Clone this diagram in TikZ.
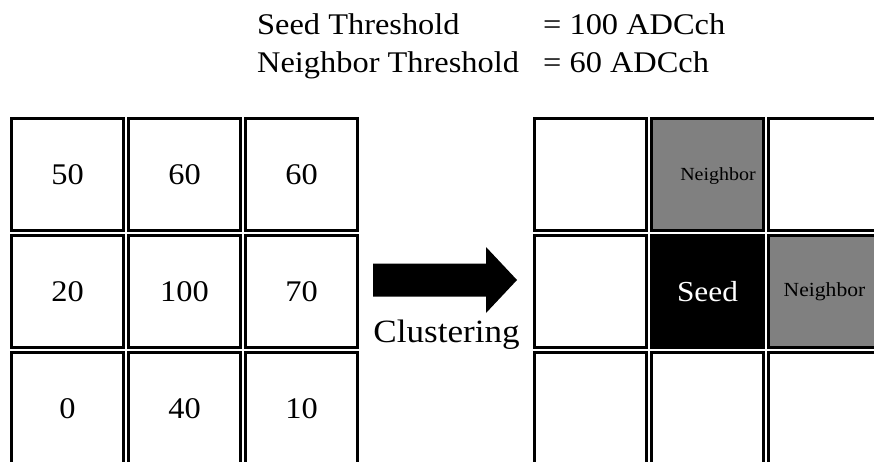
\documentclass[tikz,border=0pt]{standalone}
\usepackage{fontspec}
\setmainfont{Liberation Serif}[FakeStretch=1.08]
\begin{document}
\begin{tikzpicture}[x=1pt,y=-1pt,
  cell/.style={draw=black, line width=3pt, minimum size=112pt, inner sep=0pt,
    anchor=center, font=\fontsize{30}{36}\selectfont},
  seedcell/.style={cell, fill=black, text=white, font=\fontsize{29}{34}\selectfont},
  nbcell/.style={cell, fill=gray},
  hdr/.style={anchor=base west, inner sep=0pt, font=\fontsize{30}{36}\selectfont}]
\useasboundingbox (0,0) rectangle (874,462);
\clip (0,0) rectangle (874,462);
\fill[white] (0,0) rectangle (874,462);
% header
\node[hdr] (h1) at (257,35) {Seed Threshold};
\node[hdr] (h2) at (543,35) {= 100 ADCch};
\node[hdr] (h3) at (257,73) {Neighbor Threshold};
\node[hdr] (h4) at (543,73) {= 60 ADCch};
% left grid
\node[cell] (a11) at (67.5,174.5) {50};
\node[cell] (a12) at (184.5,174.5) {60};
\node[cell] (a13) at (301.5,174.5) {60};
\node[cell] (a21) at (67.5,291.5) {20};
\node[cell] (a22) at (184.5,291.5) {100};
\node[cell] (a23) at (301.5,291.5) {70};
\node[cell] (a31) at (67.5,408.5) {0};
\node[cell] (a32) at (184.5,408.5) {40};
\node[cell] (a33) at (301.5,408.5) {10};
% arrow
\coordinate (arr) at (373,280);
\fill[black] (arr) ++(0,-16.5) -- ++(113,0) -- ++(0,-16.5) -- ++(31,33)
  -- ++(-31,33) -- ++(0,-16.5) -- ++(-113,0) -- cycle;
\node[anchor=base, inner sep=0pt, font=\fontsize{32.5}{38}\selectfont] (lbl) at (446.5,342) {Clustering};
% right grid
\node[cell] (b11) at (590.5,174.5) {};
\node[nbcell] (b12) at (707.5,174.5) {};
\node[anchor=center, inner sep=0pt, font=\fontsize{18.5}{22}\selectfont] (b12t) at (718,176) {Neighbor};
\node[cell] (b13) at (824.5,174.5) {};
\node[cell] (b21) at (590.5,291.5) {};
\node[seedcell] (b22) at (707.5,291.5) {Seed};
\node[nbcell, font=\fontsize{20}{24}\selectfont] (b23) at (824.5,291.5) {Neighbor};
\node[cell] (b31) at (590.5,408.5) {};
\node[cell] (b32) at (707.5,408.5) {};
\node[cell] (b33) at (824.5,408.5) {};
\end{tikzpicture}
\end{document}
